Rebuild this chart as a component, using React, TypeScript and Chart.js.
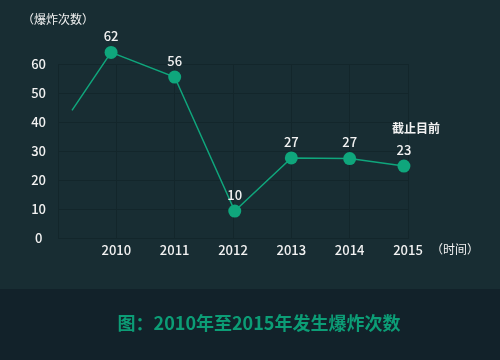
import React, { useEffect, useRef } from "react";
import { Chart, registerables } from "chart.js";

Chart.register(...registerables);

// ---- data ----
const pointYears = [2009.24, 2009.91, 2011, 2012.03, 2013, 2014, 2014.93];
const pointCounts = [44, 64, 55.5, 9.3, 27.6, 27.4, 24.8];
const pointLabels = ["", "62", "56", "10", "27", "27", "23"];
const pointRadii = [0, 6.5, 6.5, 6.5, 6.5, 6.5, 6.5];
const yMin = 0;
const yMax = 60;
const yStep = 10;
const xMin = 2009;
const xMax = 2015;
const noteText = "截止目前";
const yAxisTitle = "（爆炸次数）";
const xAxisTitle = "（时间）";
const captionText = "图：2010年至2015年发生爆炸次数";

// ---- style ----
const FONT = '"Noto Sans CJK SC", "Noto Sans", sans-serif';
const BG = "#182d33";
const BAND = "#12222a";
const GRID = "#13262b";
const GREEN = "#0fa67c";
const CAPTION = "#0c9d76";
const TEXT = "#f2f2f2";

const decorPlugin = {
  id: "decor",
  beforeDraw(chart: any) {
    const { ctx, width, height } = chart;
    ctx.save();
    ctx.fillStyle = BG;
    ctx.fillRect(0, 0, width, height);
    ctx.fillStyle = BAND;
    ctx.fillRect(0, 289, width, height - 289);
    ctx.restore();
  },
  afterDatasetsDraw(chart: any) {
    // draw points that lie outside the chart area too (e.g. above the 60 line)
    const { ctx, width, height } = chart;
    const meta = chart.getDatasetMeta(0);
    const full = { left: 0, top: 0, right: width, bottom: height };
    const area = chart.chartArea;
    meta.data.forEach((pt: any) => {
      if (pt.y < area.top || pt.y > area.bottom) pt.draw(ctx, full);
    });
  },
  afterDraw(chart: any) {
    const { ctx, chartArea } = chart;
    ctx.save();
    ctx.textAlign = "center";
    ctx.textBaseline = "middle";
    // axis titles
    ctx.fillStyle = TEXT;
    ctx.font = `12px ${FONT}`;
    ctx.fillText(yAxisTitle, chartArea.left, 19);
    ctx.fillText(xAxisTitle, chartArea.right + 47, 249);
    // point labels
    const meta = chart.getDatasetMeta(0);
    ctx.font = `500 13px ${FONT}`;
    meta.data.forEach((pt: any, i: number) => {
      const t = pointLabels[i];
      if (t) ctx.fillText(t, pt.x, pt.y - 16);
    });
    const last = meta.data[meta.data.length - 1];
    ctx.font = `bold 12px ${FONT}`;
    ctx.fillText(noteText, last.x + 12, last.y - 38);
    // caption
    ctx.fillStyle = CAPTION;
    ctx.font = `bold 18px ${FONT}`;
    ctx.fillText(captionText, 259, 323);
    ctx.restore();
  },
};

export default function App() {
  const ref = useRef<HTMLCanvasElement | null>(null);

  useEffect(() => {
    document.body.style.margin = "0";
    const canvas = ref.current;
    if (!canvas) return;
    Chart.defaults.font.family = FONT;
    const chart = new Chart(canvas, {
      type: "line",
      data: {
        datasets: [
          {
            data: pointYears.map((x, i) => ({ x, y: pointCounts[i] })),
            borderColor: GREEN,
            backgroundColor: GREEN,
            borderWidth: 1.5,
            pointRadius: pointRadii,
            pointHoverRadius: pointRadii,
            pointBorderWidth: 0,
            pointBackgroundColor: GREEN,
            tension: 0,
            clip: false,
          } as any,
        ],
      },
      options: {
        animation: false,
        responsive: false,
        events: [],
        layout: { padding: { left: 20, right: 92, top: 64, bottom: 0 } },
        plugins: { legend: { display: false }, tooltip: { enabled: false } },
        scales: {
          x: {
            type: "linear",
            min: xMin,
            max: xMax,
            grid: { color: GRID, drawTicks: false, lineWidth: 1 },
            border: { color: GRID },
            ticks: {
              stepSize: 1,
              padding: 4,
              color: TEXT,
              font: { size: 13, weight: 500 },
              callback: (v: any) => (v === xMin ? "" : String(v)),
            },
            afterFit: (s: any) => {
              s.height = 122;
            },
          },
          y: {
            min: yMin,
            max: yMax,
            grid: { color: GRID, drawTicks: false, lineWidth: 1 },
            border: { color: GRID },
            ticks: {
              stepSize: yStep,
              padding: 12,
              crossAlign: "center",
              color: TEXT,
              font: { size: 13, weight: 500 },
            },
            afterFit: (s: any) => {
              s.width = 38;
            },
          },
        } as any,
      },
      plugins: [decorPlugin],
    });
    return () => chart.destroy();
  }, []);

  return (
    <div style={{ position: "fixed", left: 0, top: 0, width: 500, height: 360, background: BG }}>
      <canvas ref={ref} width={500} height={360} style={{ display: "block" }} />
    </div>
  );
}
